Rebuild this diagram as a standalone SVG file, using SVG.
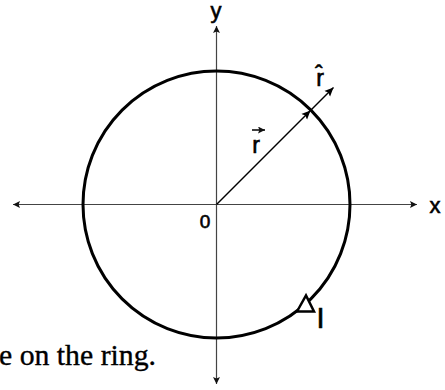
<svg xmlns="http://www.w3.org/2000/svg" width="445" height="390" viewBox="0 0 445 390">
<defs>
<style>
.axis{stroke:#444;stroke-width:1.2;fill:none}
.ring{stroke:#000;stroke-width:3;fill:none}
.vec{stroke:#000;stroke-width:1.5;fill:none}
.lbl{font-family:"Liberation Sans",Arial,"DejaVu Sans",sans-serif;fill:#000;stroke:#000;stroke-width:0.6}
.cap{font-family:"Liberation Serif","Times New Roman",serif;fill:#000;stroke:#000;stroke-width:0.35}
</style>
<marker id="ah" viewBox="0 0 10 10" refX="10" refY="5" markerWidth="7" markerHeight="7" markerUnits="userSpaceOnUse" orient="auto">
<path d="M0,0 L10,5 L0,10 L2,5 Z" fill="#111"/>
</marker>
<marker id="vh" viewBox="0 0 10 10" refX="10" refY="5" markerWidth="9" markerHeight="9" markerUnits="userSpaceOnUse" orient="auto">
<path d="M0,0.5 L10,5 L0,9.5 L2,5 Z" fill="#000"/>
</marker>
</defs>
<rect width="445" height="390" fill="#fff"/>
<g id="connectors">
<line class="axis" x1="216.5" y1="204.5" x2="13" y2="204.5" marker-end="url(#ah)"/>
<line class="axis" x1="216.5" y1="204.5" x2="417" y2="204.5" marker-end="url(#ah)"/>
<line class="axis" x1="216.5" y1="204.5" x2="216.5" y2="26" marker-end="url(#ah)"/>
<line class="axis" x1="216.5" y1="204.5" x2="216.5" y2="384" marker-end="url(#ah)"/>
<line class="vec" x1="216.5" y1="204.5" x2="310.5" y2="110.5" marker-end="url(#vh)"/>
<line class="vec" x1="310.5" y1="110.5" x2="333.5" y2="87.5" marker-end="url(#vh)"/>
</g>
<g id="ring">
<circle class="ring" cx="216.5" cy="204.5" r="133.5"/>
<polygon points="297,311.5 306,295.5 314,311.5" fill="#fff" stroke="#000" stroke-width="2.5" stroke-linejoin="miter"/>
</g>
<g id="labels">
<text class="lbl" x="216" y="18" font-size="22" text-anchor="middle">y</text>
<text class="lbl" x="435" y="213" font-size="22" text-anchor="middle">x</text>
<text class="lbl" x="205" y="228" font-size="19" text-anchor="middle">0</text>
<text class="lbl" x="256" y="153" font-size="23" text-anchor="middle">r</text>
<line x1="252" y1="130" x2="265" y2="130" stroke="#000" stroke-width="1.5" marker-end="url(#ah)"/>
<text class="lbl" x="320" y="86" font-size="23" text-anchor="middle">r̂</text>
<text class="lbl" x="320.5" y="328" font-size="29" text-anchor="middle">I</text>
</g>
<text class="cap" x="-1" y="365" font-size="29" textLength="157" lengthAdjust="spacingAndGlyphs">e on the ring.</text>
</svg>
